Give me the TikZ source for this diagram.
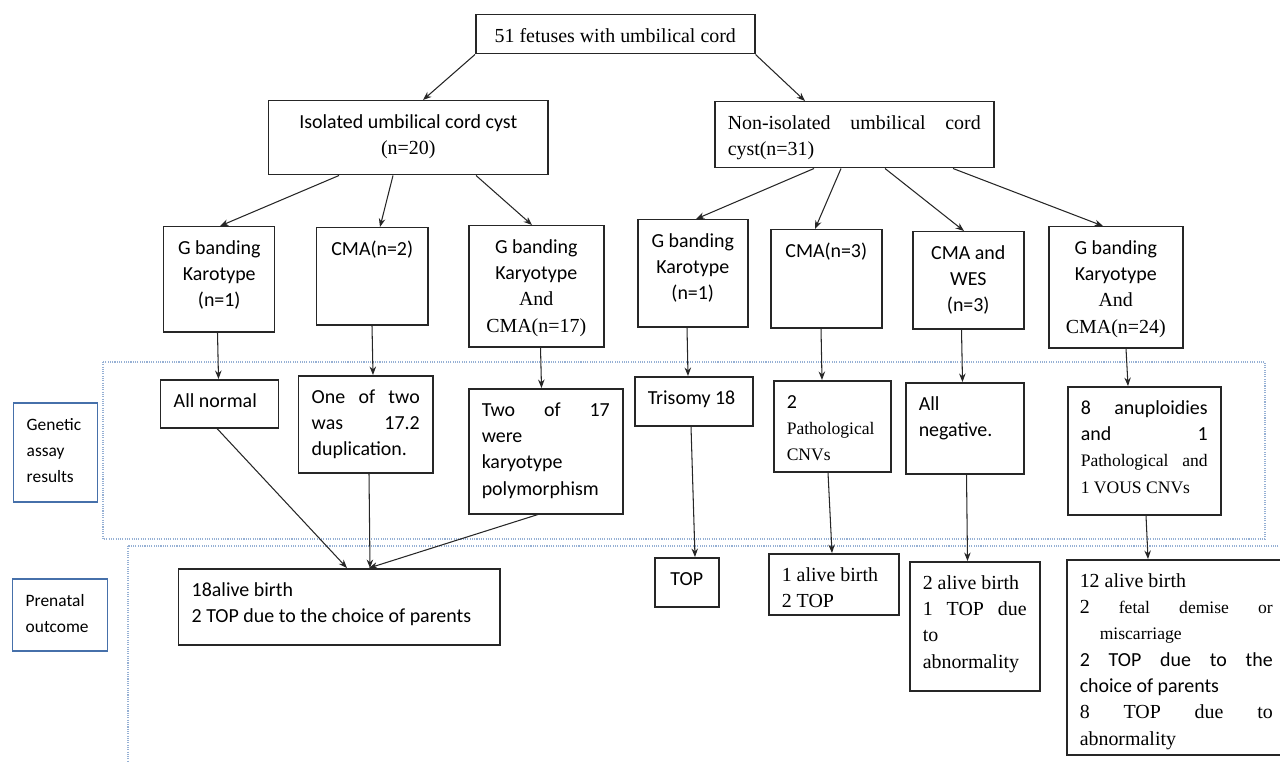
\documentclass[tikz,border=0pt]{standalone}
\usepackage{fontspec}
\setmainfont{Carlito}
\newfontfamily\tms{Liberation Serif}
\usepackage{tikz}
\usetikzlibrary{arrows.meta, calc}

\newlength\px
\setlength\px{0.02cm}
\newcommand\sz{\fontsize{11.34pt}{15pt}\selectfont}
\newcommand\tsm{\tms\fontsize{10pt}{15pt}\selectfont}
\newcommand\tagfont{\fontsize{9.9pt}{15pt}\selectfont}
% box of w x h pixels, text from the top
\newcommand\cellbox[3]{\parbox[c][\dimexpr#2\px-0.36cm\relax][t]{\dimexpr#1\px-0.52cm\relax}{\sz\strut#3}}

\definecolor{dotblue}{RGB}{150,176,212}
\definecolor{tagblue}{RGB}{70,112,170}

\begin{document}
\begin{tikzpicture}[
  x=0.02cm, y=-0.02cm,
  font=\sz,
  cell/.style={
    draw=black!85, line width=0.85pt,
    inner xsep=0.26cm, inner ysep=0.18cm,
    anchor=north west
  },
  tag/.style={cell, draw=tagblue},
  frame/.style={
    draw=dotblue, line width=0.8pt,
    dash pattern=on 0.6pt off 0.7pt
  },
  link/.style={
    arrows={-Stealth[length=1.7mm, width=1.3mm]},
    draw=black!85, line width=0.6pt
  }
]
\useasboundingbox (0,0) rectangle (1280,761);

% ----- Bands -----
\draw[frame] (103,362) rectangle (1265,539);
\draw[frame] (128,546) rectangle (1310,790);

\node[tag] (assay) at (13,402) {\cellbox{84}{99}{\tagfont Genetic\\assay\\results}};
\node[tag] (prenatal) at (12,578) {\cellbox{95}{72}{\tagfont Prenatal\\outcome}};

% ----- Root and groups -----
\node[cell] (root) at (475,14) {\cellbox{279}{39}{\centering\tms 51 fetuses with umbilical cord}};

\node[cell] (iso) at (268,100)
  {\cellbox{279}{74}{\centering Isolated umbilical cord cyst\\\tms(n=20)}};
\node[cell] (noniso) at (714,101)
  {\cellbox{279}{66}{\tms Non-isolated\hfill umbilical\hfill cord\\cyst(n=31)}};

% ----- Tests -----
\node[cell] (gk1) at (163,226) {\cellbox{111}{105}{\centering G banding\\Karotype\\(n=1)}};
\node[cell] (cma2) at (316,227) {\cellbox{111}{97}{\centering CMA(n=2)}};
\node[cell] (gkc17) at (468,225)
  {\cellbox{135}{121}{\centering G banding\\Karyotype\\\tms And\\CMA(n=17)}};
\node[cell] (gk1b) at (637,219) {\cellbox{110}{107}{\centering G banding\\Karotype\\(n=1)}};
\node[cell] (cma3) at (770,229) {\cellbox{111}{98}{\centering CMA(n=3)}};
\node[cell] (wes) at (912,231) {\cellbox{111}{97}{\centering CMA and\\WES\\(n=3)}};
\node[cell] (gkc24) at (1048,226)
  {\cellbox{134}{121}{\centering G banding\\Karyotype\\\tms And\\CMA(n=24)}};

% ----- Results -----
\node[cell] (normal) at (160,379) {\cellbox{118}{48}{\raggedright All normal}};
\node[cell] (dup) at (298,375) {\cellbox{134}{97}{One\hfill of\hfill two\\was\hfill 17.2\\duplication.}};
\node[cell] (poly) at (468,388)
  {\cellbox{154}{125}{Two\hfill of\hfill 17\\were\\karyotype\\polymorphism}};
\node[cell] (tri) at (634,376) {\cellbox{118}{49}{\raggedright Trisomy 18}};
\node[cell] (path) at (773,380) {\cellbox{117}{91}{2\\\tsm Pathological\\CNVs}};
\node[cell] (neg) at (905,382) {\cellbox{118}{91}{All\\negative.}};
\node[cell] (anup) at (1067,386)
  {\cellbox{153}{128}{8\hfill anuploidies\\and\hfill 1\\\tsm Pathological\hfill and\\1 VOUS CNVs}};

% ----- Outcomes -----
\node[cell] (out1) at (178,568)
  {\cellbox{321}{76}{\raggedright 18alive birth\\2 TOP due to the choice of parents}};
\node[cell] (top) at (654,557) {\cellbox{64}{49}{\centering TOP}};
\node[cell] (alive1) at (768,553) {\cellbox{130}{61}{\tms 1 alive birth\\2 TOP}};
\node[cell] (alive2) at (909,561)
  {\cellbox{130}{129}{\tms 2 alive birth\\1\hfill TOP\hfill due\\to\\abnormality}};
\node[cell] (out7) at (1066,559)
  {\cellbox{219}{195}{\tms 12 alive birth\\2\hfill\tsm fetal\hfill demise\hfill or\\\hspace*{20\px}miscarriage\\
   \sz\rmfamily 2\hfill TOP\hfill due\hfill to\hfill the\\choice of parents\\
   \tms 8\hfill TOP\hfill due\hfill to\\abnormality}};

% ----- Arrows -----
\draw[link] (root.south west) -- ($(iso.north west)+(155,0)$);
\draw[link] (root.south east) -- ($(noniso.north west)+(91,0)$);

\draw[link] ($(iso.south west)+(71,0)$) -- ($(gk1.north west)+(57,0)$);
\draw[link] ($(iso.south west)+(125,0)$) -- ($(cma2.north west)+(64,0)$);
\draw[link] ($(iso.south west)+(208,0)$) -- ($(gkc17.north west)+(64,0)$);
\draw[link] ($(noniso.south west)+(100,0)$) -- ($(gk1b.north west)+(59,0)$);
\draw[link] ($(noniso.south west)+(127,0)$) -- ($(cma3.north west)+(45,0)$);
\draw[link] ($(noniso.south west)+(171,0)$) -- ($(wes.north west)+(52,0)$);
\draw[link] ($(noniso.south west)+(239,0)$) -- ($(gkc24.north west)+(55,0)$);

\draw[link] ($(gk1.south west)+(54.5,0)$) -- ($(normal.north west)+(58.5,0)$);
\draw[link] ($(cma2.south west)+(56,0)$) -- ($(dup.north west)+(75,0)$);
\draw[link] ($(gkc17.south west)+(72.5,0)$) -- ($(poly.north west)+(73.5,0)$);
\draw[link] ($(gk1b.south west)+(50,0)$) -- ($(tri.north west)+(54,0)$);
\draw[link] ($(cma3.south west)+(51,0)$) -- ($(path.north west)+(49,0)$);
\draw[link] ($(wes.south west)+(49.5,0)$) -- ($(neg.north west)+(57.5,0)$);
\draw[link] ($(gkc24.south west)+(78,0)$) -- ($(anup.north west)+(61,0)$);

\draw[link] ($(normal.south west)+(57,0)$) -- ($(out1.north west)+(169,0)$);
\draw[link] ($(dup.south west)+(71,0)$) -- ($(out1.north west)+(192,0)$);
\draw[link] ($(poly.south west)+(70,0)$) -- ($(out1.north west)+(191,0)$);
\draw[link] ($(tri.south west)+(57,0)$) -- ($(top.north west)+(41,0)$);
\draw[link] ($(path.south west)+(55,0)$) -- ($(alive1.north west)+(64,0)$);
\draw[link] ($(neg.south west)+(61.5,0)$) -- ($(alive2.north west)+(58.5,0)$);
\draw[link] ($(anup.south west)+(79,0)$) -- ($(out7.north west)+(82,0)$);

\end{tikzpicture}
\end{document}
